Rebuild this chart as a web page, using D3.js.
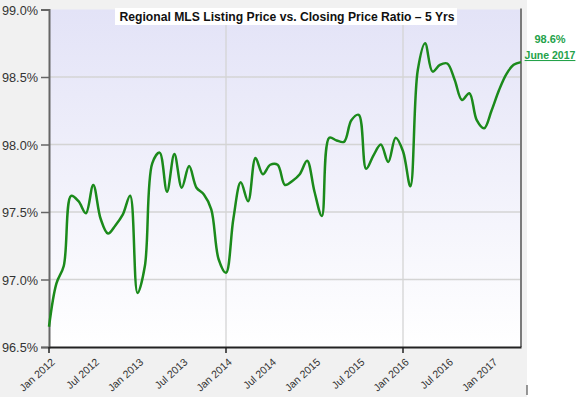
<!DOCTYPE html>
<html>
<head>
<meta charset="utf-8">
<script src="https://cdn.jsdelivr.net/npm/d3@7"></script>
<style>
  body { margin: 0; background: #fff; }
  svg { display: block; }
  text { font-family: Arial, "Liberation Sans", sans-serif; }
</style>
</head>
<body>
<svg id="chart" width="584" height="397"></svg>
<script>
// monthly ratio, Jan 2012 .. last month
const ratio = [
  96.65, 96.97, 97.10, 97.62, 97.58, 97.49, 97.70, 97.45, 97.34, 97.40,
  97.48, 97.62, 96.90, 97.10, 97.86, 97.94, 97.65, 97.93, 97.68, 97.84,
  97.68, 97.63, 97.52, 97.15, 97.05, 97.45, 97.72, 97.58, 97.90, 97.78,
  97.85, 97.85, 97.70, 97.73, 97.78, 97.88, 97.65, 97.47, 98.05, 98.03,
  98.02, 98.18, 98.22, 97.82, 97.92, 98.00, 97.87, 98.05, 97.95, 97.69,
  98.55, 98.75, 98.54, 98.59, 98.60, 98.48, 98.33, 98.38, 98.18, 98.12,
  98.25, 98.40, 98.52, 98.59, 98.61,
];
const xTickIdx = [0, 6, 12, 18, 24, 30, 36, 42, 48, 54, 60];
const xTickLabels = ["Jan 2012", "Jul 2012", "Jan 2013", "Jul 2013", "Jan 2014", "Jul 2014",
  "Jan 2015", "Jul 2015", "Jan 2016", "Jul 2016", "Jan 2017"];
const xGridIdx = [24, 48];
const yTicks = [96.5, 97.0, 97.5, 98.0, 98.5, 99.0];
const title = "Regional MLS Listing Price vs. Closing Price Ratio \u2013 5 Yrs";
const lastValueLabel = "98.6%";
const lastMonthLabel = "June 2017";

const plot = { left: 49, right: 521, top: 9.5, bottom: 347 };

const svg = d3.select("#chart");

const x = d3.scaleLinear().domain([0, ratio.length - 1]).range([plot.left, plot.right]);
const y = d3.scaleLinear().domain([96.5, 99.0]).range([plot.bottom, plot.top]);

// backgrounds
svg.append("rect").attr("width", 527).attr("height", 397).attr("fill", "#f1f1f1");

const grad = svg.append("defs").append("linearGradient")
  .attr("id", "bg").attr("x1", 0).attr("y1", 0).attr("x2", 0).attr("y2", 1);
grad.append("stop").attr("offset", "0%").attr("stop-color", "#e3e3f7");
grad.append("stop").attr("offset", "100%").attr("stop-color", "#ffffff");

svg.append("rect")
  .attr("x", plot.left).attr("y", plot.top)
  .attr("width", plot.right - plot.left).attr("height", plot.bottom - plot.top)
  .attr("fill", "url(#bg)");

// grid
svg.append("g").selectAll("line").data(yTicks.slice(1, -1)).join("line")
  .attr("x1", plot.left).attr("x2", plot.right)
  .attr("y1", (d) => y(d)).attr("y2", (d) => y(d))
  .attr("stroke", "#d4d4d4").attr("stroke-width", 1.3);

svg.append("g").selectAll("line").data(xGridIdx).join("line")
  .attr("x1", (d) => x(d)).attr("x2", (d) => x(d))
  .attr("y1", plot.top).attr("y2", plot.bottom)
  .attr("stroke", "#d4d4d4").attr("stroke-width", 1.3);

// y axis
const yAxis = svg.append("g")
  .attr("transform", `translate(${plot.left},0)`)
  .call(d3.axisLeft(y).tickValues(yTicks).tickFormat((d) => d3.format(".1f")(d) + "%").tickSize(8).tickPadding(3));
yAxis.select(".domain").attr("stroke", "#666").attr("stroke-width", 2);
yAxis.selectAll(".tick line").attr("stroke", "#666").attr("stroke-width", 1.5);
yAxis.selectAll(".tick text")
  .attr("font-size", 13).attr("fill", "#333").attr("dy", "0.36em")
  .attr("textLength", 36).attr("lengthAdjust", "spacingAndGlyphs");

// right border
svg.append("line")
  .attr("x1", plot.right).attr("x2", plot.right)
  .attr("y1", plot.top - 1).attr("y2", plot.bottom)
  .attr("stroke", "#7a7a7a").attr("stroke-width", 2);

// x axis
const xAxis = svg.append("g")
  .attr("transform", `translate(0,${plot.bottom})`)
  .call(d3.axisBottom(x).tickValues(xTickIdx).tickFormat((d, i) => xTickLabels[i]).tickSize(0).tickSizeOuter(0));
xAxis.select(".domain").attr("stroke", "#222").attr("stroke-width", 2);
xAxis.selectAll(".tick text")
  .attr("font-size", 10.5).attr("fill", "#333")
  .attr("text-anchor", "end").attr("y", 0).attr("dy", 0)
  .attr("transform", "translate(6,16) rotate(-42)");

svg.append("g").selectAll("line").data([0].concat(xGridIdx)).join("line")
  .attr("x1", (d) => x(d)).attr("x2", (d) => x(d))
  .attr("y1", plot.bottom).attr("y2", plot.bottom + 6)
  .attr("stroke", "#222").attr("stroke-width", 1.5);

// stray mark under the right border
svg.append("line")
  .attr("x1", 527).attr("x2", 527).attr("y1", 385).attr("y2", 395)
  .attr("stroke", "#555").attr("stroke-width", 1.2);

// line
const line = d3.line()
  .x((d, i) => x(i))
  .y((d) => y(d))
  .curve(d3.curveCatmullRom.alpha(0.5));

svg.append("path")
  .datum(ratio)
  .attr("d", line)
  .attr("fill", "none")
  .attr("stroke", "#1b8a1b")
  .attr("stroke-width", 2.5);

// title
svg.append("rect")
  .attr("x", 115).attr("y", 8).attr("width", 342).attr("height", 17)
  .attr("fill", "#fff");
svg.append("text")
  .attr("x", 287).attr("y", 21)
  .attr("text-anchor", "middle")
  .attr("font-size", 12.5).attr("font-weight", "bold").attr("fill", "#111")
  .attr("textLength", 335).attr("lengthAdjust", "spacingAndGlyphs")
  .text(title);

// last value annotation
svg.append("text")
  .attr("x", 550).attr("y", 43)
  .attr("text-anchor", "middle")
  .attr("font-size", 11).attr("font-weight", "bold").attr("fill", "#24a24a")
  .text(lastValueLabel);
svg.append("text")
  .attr("x", 550).attr("y", 59)
  .attr("text-anchor", "middle")
  .attr("font-size", 10.5).attr("font-weight", "bold").attr("fill", "#24a24a")
  .attr("text-decoration", "underline")
  .text(lastMonthLabel);
</script>
</body>
</html>
